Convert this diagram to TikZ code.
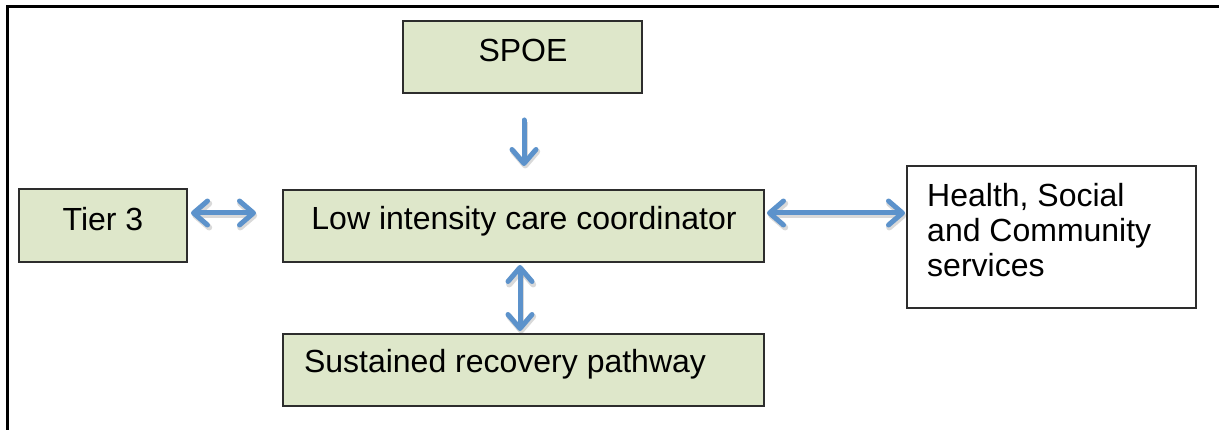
\documentclass[tikz,border=0pt]{standalone}
\usepackage{fontspec}
\setmainfont{Liberation Sans}
\usetikzlibrary{arrows.meta}
\definecolor{boxfill}{RGB}{222,231,202}
\definecolor{boxline}{RGB}{45,45,45}
\definecolor{arrowblue}{RGB}{92,146,203}
\tikzset{
  greenbox/.style={draw=boxline, line width=1.5pt, fill=boxfill, rectangle, inner sep=0pt},
  whitebox/.style={draw=boxline, line width=1.5pt, fill=white, rectangle, inner sep=0pt},
  lbl/.style={inner sep=0pt, font=\fontsize{32}{35}\selectfont},
  barb/.tip={Straight Barb[length=14pt, width=24pt, round]},
  flowarrow/.style={draw=arrowblue, line width=5pt, line cap=round,
    arrows={-barb},
    preaction={draw=black, opacity=0.15, line width=6pt,
      transform canvas={shift={(1.2pt,-2.5pt)}}}},
  twoway/.style={flowarrow, arrows={barb-barb}}
}
\begin{document}
\begin{tikzpicture}[x=1pt, y=-1pt]
  \useasboundingbox (0,0) rectangle (1219,430);
  % outer frame (top and left edges only)
  \draw[line width=3pt] (7.5,430) -- (7.5,6.5) -- (1219,6.5);

  % boxes
  \node[greenbox, minimum width=239pt, minimum height=72pt] (spoe) at (522.5,57) {};
  \node[greenbox, minimum width=168pt, minimum height=73pt] (tier) at (103,225.5) {};
  \node[greenbox, minimum width=481pt, minimum height=72pt] (low) at (523.5,226) {};
  \node[greenbox, minimum width=481pt, minimum height=72pt] (sus) at (523.5,370) {};
  \node[whitebox, minimum width=289pt, minimum height=142pt] (hsc) at (1051.5,237) {};

  % labels
  \node[lbl, anchor=base] (spoeT) at (523,62) {SPOE};
  \node[lbl, anchor=base] (tierT) at (103,231) {Tier 3};
  \node[lbl, anchor=base] (lowT) at (524,230) {Low intensity care coordinator};
  \node[lbl, anchor=base] (susT) at (505,373) {Sustained recovery pathway};
  \node[lbl, anchor=base west] (hscA) at (927,207) {Health, Social};
  \node[lbl, anchor=base west] (hscB) at (927,242) {and Community};
  \node[lbl, anchor=base west] (hscC) at (927,277) {services};

  % connector end points
  \coordinate (downS) at (524,120);
  \coordinate (downE) at (524,166);
  \coordinate (tierA) at (191,213);
  \coordinate (tierB) at (256,213);
  \coordinate (hscL) at (767,213);
  \coordinate (hscR) at (905,213);
  \coordinate (susU) at (520,265);
  \coordinate (susD) at (520,331);

  % connectors
  \draw[flowarrow] (downS) -- (downE);
  \draw[twoway] (tierA) -- (tierB);
  \draw[twoway] (hscL) -- (hscR);
  \draw[twoway] (susU) -- (susD);
\end{tikzpicture}
\end{document}
